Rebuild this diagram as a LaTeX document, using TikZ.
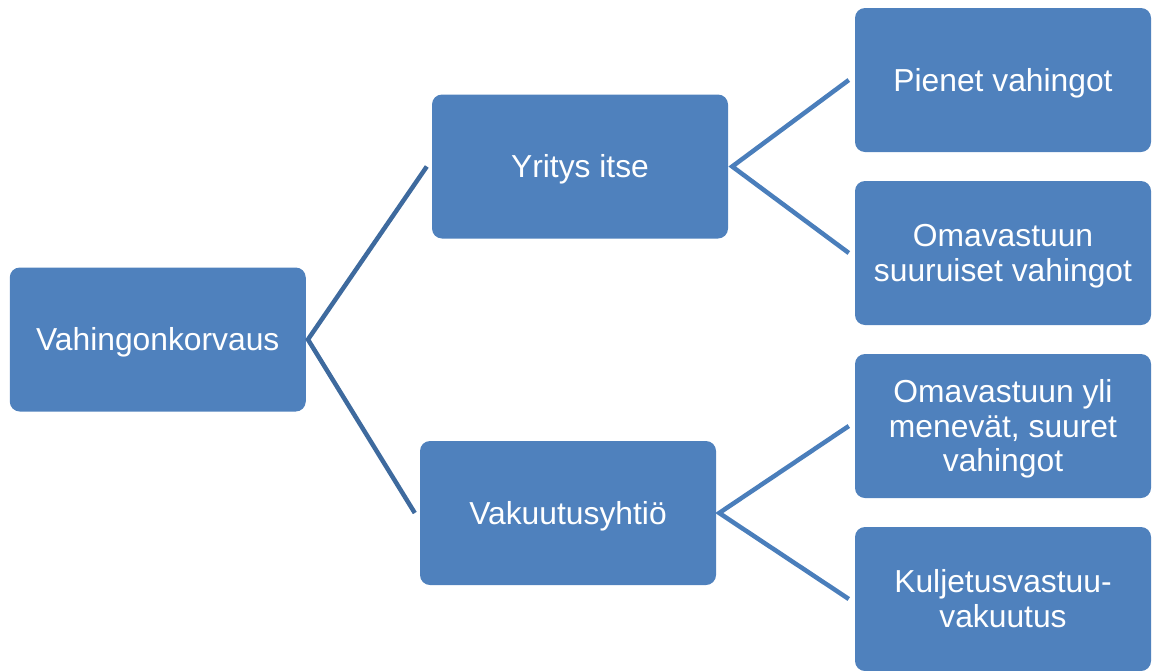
\documentclass[tikz,border=0pt]{standalone}
\usepackage{fontspec}
\setmainfont{Liberation Sans}
\definecolor{boxfill}{HTML}{4F81BD}
\definecolor{linkdark}{HTML}{3E6A9E}
\definecolor{linklight}{HTML}{4A7EBB}
\begin{document}
\begin{tikzpicture}[x=1pt,y=-1pt,
  orgbox/.style={fill=boxfill, draw=none, rounded corners=10pt,
    minimum width=296pt, minimum height=144pt, inner sep=0pt,
    text=white, align=center, text height=28.8pt, text depth=6.7pt,
    font=\fontsize{31.8}{34.5}\selectfont},
  twolines/.style={text height=63.3pt},
  threelines/.style={text height=97.8pt},
  link/.style={line width=4.5pt, line join=miter},
  linkA/.style={link, draw=linkdark},
  linkB/.style={link, draw=linklight}]
\useasboundingbox (0,0) rectangle (1152,670);

% boxes
\node[orgbox] (root) at (157.75,339.5) {Vahingonkorvaus};
\node[orgbox] (self) at (580,166.5) {Yritys itse};
\node[orgbox] (insur) at (568,513) {Vakuutusyhtiö};
\node[orgbox] (small) at (1003,80) {Pienet vahingot};
\node[orgbox, twolines] (deduct) at (1003,253) {Omavastuun\\suuruiset vahingot};
\node[orgbox, threelines] (large) at (1003,426) {Omavastuun yli\\menevät, suuret\\vahingot};
\node[orgbox, twolines] (cargo) at (1003,599) {Kuljetusvastuu-\\vakuutus};

% first level connectors
\draw[linkA] ([xshift=-5pt]self.west) -- ([xshift=2pt]root.east) -- ([xshift=-5pt]insur.west);

% second level connectors
\draw[linkB] ([xshift=-6pt]small.west) -- ([xshift=4pt]self.east) -- ([xshift=-6pt]deduct.west);
\draw[linkB] ([xshift=-6pt]large.west) -- ([xshift=3pt]insur.east) -- ([xshift=-6pt]cargo.west);
\end{tikzpicture}
\end{document}
